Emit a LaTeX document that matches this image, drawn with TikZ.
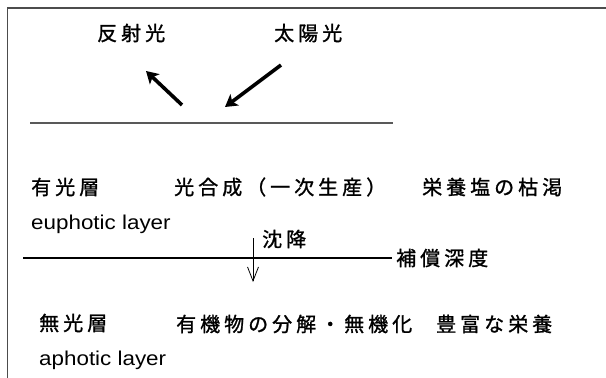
\documentclass[tikz,border=0pt]{standalone}
\usepackage{fontspec}
\setmainfont{Liberation Sans}
\newfontfamily\jp[LetterSpace=20,FakeBold=1.2]{Noto Sans CJK JP}
\usetikzlibrary{arrows.meta}
\tikzset{lbl/.style={inner sep=0pt,anchor=west},
  ray/.style={line width=3.6pt,-{Stealth[length=12pt,width=14pt,inset=3pt]}},
  sink/.style={line width=0.8pt,-{Straight Barb[length=14pt,width=11pt]}}}
\begin{document}
\begin{tikzpicture}[x=1pt,y=-1pt]
		\def\jt#1{{\jp\fontsize{20}{22}\selectfont #1}} % chu Nhat
		\def\et#1{\scalebox{1.12}[1]{\fontsize{20}{22}\selectfont #1}}
		\useasboundingbox (0,0) rectangle (606,378);
		\draw[line width=1.3pt,black!70] (7.5,378) -- (7.5,8) -- (606,8);
		\node[lbl] (refl) at (97,33) {\jt{反射光}};
		\node[lbl] (sun) at (274,33) {\jt{太陽光}};
		\coordinate (r0) at (182,105);
		\coordinate (r1) at (146,71);
		\coordinate (s0) at (281,65);
		\coordinate (s1) at (225,107);
		\draw[ray] (r0) -- (r1);
		\draw[ray] (s0) -- (s1);
		\coordinate (w0) at (30,123);
		\coordinate (w1) at (393,123);
		\draw[line width=1.3pt,black!65] (w0) -- (w1);
		\node[lbl] (eu) at (31,187) {\jt{有光層}};
		\node[lbl] (photo) at (174,187) {\jt{光合成（一次生産）}};
		\node[lbl] (lack) at (422,187) {\jt{栄養塩の枯渇}};
		\node[lbl] (eul) at (31,224) {\et{euphotic layer}};
		\node[lbl] (sinkl) at (262,239) {\jt{沈降}};
		\node[lbl] (depth) at (396,258) {\jt{補償深度}};
		\coordinate (d0) at (23,258);
		\draw[line width=1.8pt,shorten >=4pt] (d0) -- (depth.west);
		\coordinate (k0) at (253,238);
		\coordinate (k1) at (253,282);
		\draw[sink] (k0) -- (k1);
		\node[lbl] (aph) at (39,323) {\jt{無光層}};
		\node[lbl] (decomp) at (176,324) {\jt{有機物の分解・無機化}};
		\node[lbl] (rich) at (436,324) {\jt{豊富な栄養}};
		\node[lbl] (aphl) at (39,360) {\et{aphotic layer}};
\end{tikzpicture}
\end{document}
